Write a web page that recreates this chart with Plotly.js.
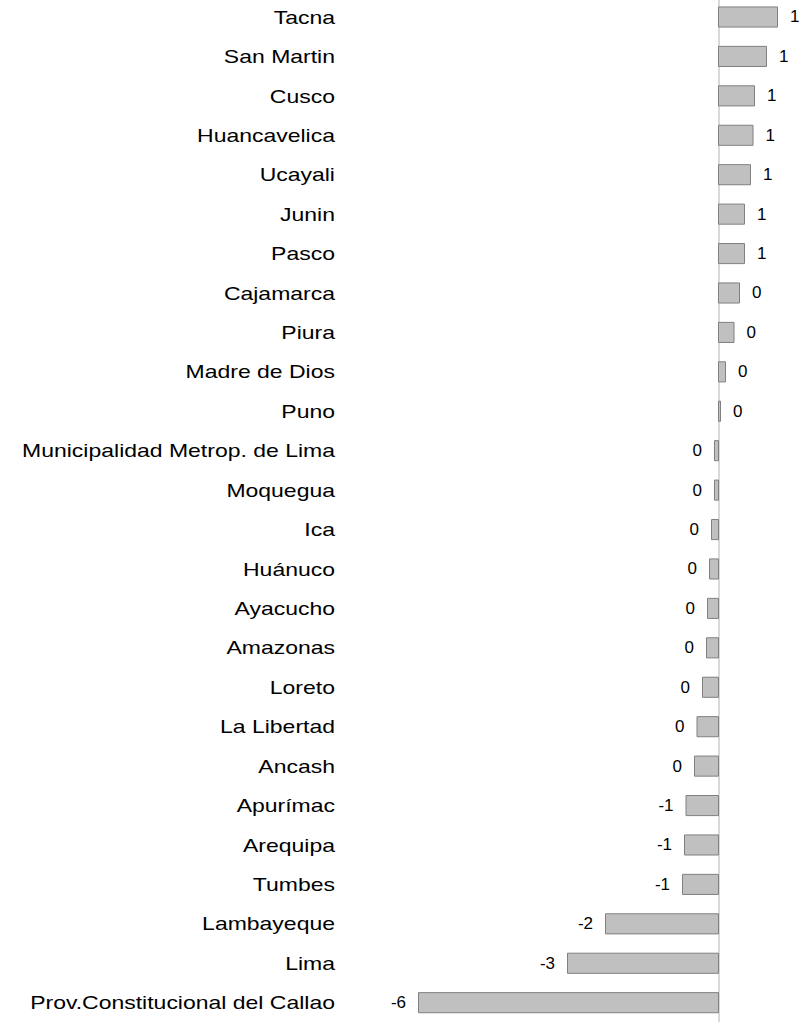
<!DOCTYPE html>
<html>
<head>
<meta charset="utf-8">
<script src="https://cdn.plot.ly/plotly-3.0.1.min.js"></script>
<style>
  html, body { margin: 0; padding: 0; background: #ffffff; }
  #chart { width: 808px; height: 1024px; }
</style>
</head>
<body>
<div id="chart"></div>
<script>
// Regions, top to bottom
const regions = [
  "Tacna", "San Martin", "Cusco", "Huancavelica", "Ucayali", "Junin", "Pasco",
  "Cajamarca", "Piura", "Madre de Dios", "Puno", "Municipalidad Metrop. de Lima",
  "Moquegua", "Ica", "Huánuco", "Ayacucho", "Amazonas", "Loreto", "La Libertad",
  "Ancash", "Apurímac", "Arequipa", "Tumbes", "Lambayeque", "Lima",
  "Prov.Constitucional del Callao"
];

// Values
const values = [
  1.18, 0.96, 0.72, 0.69, 0.64, 0.52, 0.52,
  0.42, 0.31, 0.14, 0.04, -0.08,
  -0.08, -0.14, -0.18, -0.22, -0.24, -0.32, -0.43,
  -0.48, -0.65, -0.68, -0.72, -2.26, -3.02,
  -6.00
];

// Data labels are the values rounded to whole numbers
const valueLabels = values.map(v => {
  const r = Math.round(v);
  return String(r === 0 ? 0 : r);
});
const NB = "\u00A0\u00A0";
const barText = values.map((v, i) => v >= 0 ? NB + valueLabels[i] : valueLabels[i] + NB);

const FONT = "Liberation Sans, Arial, Helvetica, sans-serif";

const trace = {
  type: "bar",
  orientation: "h",
  y: regions,
  x: values,
  text: barText,
  textposition: "outside",
  constraintext: "none",
  cliponaxis: false,
  textfont: { family: FONT, size: 17, color: "#000000" },
  marker: { color: "#c0c0c0", line: { color: "#808080", width: 1 } },
  width: 0.51,
  hoverinfo: "none"
};

const layout = {
  width: 808,
  height: 1024,
  margin: { l: 338, r: 0, t: 0, b: 2, pad: 0 },
  showlegend: false,
  paper_bgcolor: "#ffffff",
  plot_bgcolor: "#ffffff",
  xaxis: {
    range: [-7.61, 1.79],
    showgrid: false,
    zeroline: true,
    zerolinecolor: "#d9d9d9",
    zerolinewidth: 2,
    showticklabels: false,
    ticks: "",
    showline: false,
    layer: "above traces",
    fixedrange: true
  },
  yaxis: {
    type: "category",
    categoryorder: "array",
    categoryarray: regions,
    range: [25.49, -0.431],
    showgrid: false,
    zeroline: false,
    showline: false,
    ticks: "",
    ticklabelstandoff: 2,
    automargin: false,
    tickfont: { family: FONT, size: 19, color: "#000000" },
    fixedrange: true
  }
};

function stretch(sel, k) {
  document.querySelectorAll(sel).forEach(t => {
    const x = parseFloat(t.getAttribute("x")) || 0;
    const tr = t.getAttribute("transform") || "";
    t.setAttribute("transform", tr + " translate(" + x + ",0) scale(" + k + ",1) translate(" + (-x) + ",0)");
  });
}

Plotly.newPlot("chart", [trace], layout, { displayModeBar: false, staticPlot: true }).then(() => {
  stretch(".ytick text", 1.21);
  stretch(".textpoint text", 1.15);
});
</script>
</body>
</html>
